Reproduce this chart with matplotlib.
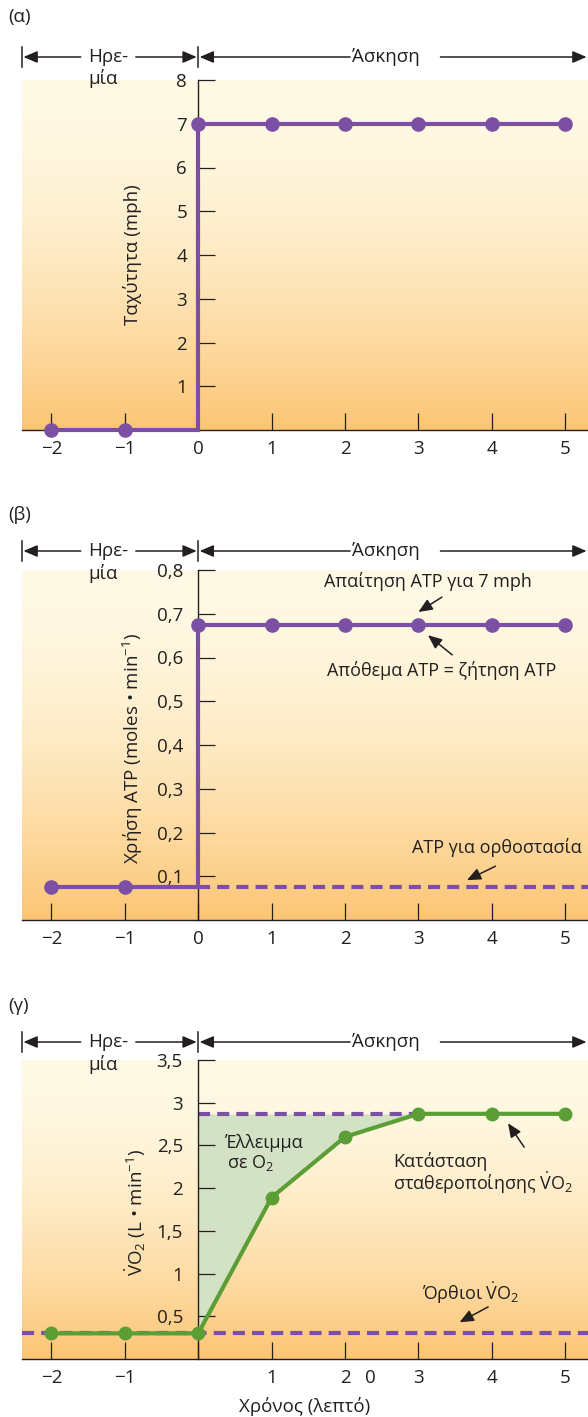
import numpy as np
import matplotlib.pyplot as plt
from matplotlib import transforms
from matplotlib.colors import to_rgb

plt.rcParams['font.family'] = ['Open Sans', 'DejaVu Sans']
plt.rcParams['mathtext.fontset'] = 'custom'
plt.rcParams['mathtext.rm'] = 'Open Sans'
plt.rcParams['mathtext.it'] = 'Open Sans:italic'
plt.rcParams['axes.unicode_minus'] = True

# ---- data ----
t_rest = [-2, -1]
t_ex = [0, 1, 2, 3, 4, 5]
speed_rest = [0, 0]
speed_ex = [7, 7, 7, 7, 7, 7]

atp_rest = [0.075, 0.075]
atp_ex = [0.675, 0.675, 0.675, 0.675, 0.675, 0.675]
atp_stand = 0.075

t_vo2 = [-2, -1, 0, 1, 2, 3, 4, 5]
vo2 = [0.3, 0.3, 0.3, 1.89, 2.6, 2.87, 2.87, 2.87]
vo2_steady = 2.87
vo2_stand = 0.3

x_ticks = [-2, -1, 0, 1, 2, 3, 4, 5]
x_labels = ['\u22122', '\u22121', '0', '1', '2', '3', '4', '5']
x_labels_g = ['\u22122', '\u22121', '', '1', '2', '3', '4', '5']

y_ticks_a = [1, 2, 3, 4, 5, 6, 7, 8]
y_labels_a = ['1', '2', '3', '4', '5', '6', '7', '8']
y_ticks_b = [0.1, 0.2, 0.3, 0.4, 0.5, 0.6, 0.7, 0.8]
y_labels_b = ['0,1', '0,2', '0,3', '0,4', '0,5', '0,6', '0,7', '0,8']
y_ticks_g = [0.5, 1, 1.5, 2, 2.5, 3, 3.5]
y_labels_g = ['0,5', '1', '1,5', '2', '2,5', '3', '3,5']

PURPLE = '#7b4fa3'
GREEN = '#5b9e35'
FILL = '#d3e2c5'
INK = '#231f20'
XLIM = (-2.40, 5.31)

W, H = 588, 1417
fig = plt.figure(figsize=(W / 100, H / 100), dpi=100)


def px_axes(top, bottom):
    return fig.add_axes([22 / W, 1 - bottom / H, 566 / W, (bottom - top) / H])


def setup(ax, ylim, yt, yl, xl, ypad):
    top = np.array(to_rgb('#fffae6'))
    bot = np.array(to_rgb('#fcc574'))
    t = np.linspace(0, 1, 256) ** 1.7
    grad = top[None, :] * (1 - t[:, None]) + bot[None, :] * t[:, None]
    ax.imshow(grad[:, None, :], extent=[0, 1, 0, 1], transform=ax.transAxes,
              aspect='auto', zorder=0, interpolation='bilinear')
    ax.patch.set_visible(False)
    ax.set_xlim(*XLIM)
    ax.set_ylim(*ylim)
    for s in ['top', 'right']:
        ax.spines[s].set_visible(False)
    ax.spines['left'].set_position(('data', 0))
    ax.spines['left'].set_color(INK)
    ax.spines['bottom'].set_color(INK)
    ax.spines['left'].set_linewidth(1.0)
    ax.spines['bottom'].set_linewidth(1.0)
    ax.set_xticks(x_ticks)
    ax.set_xticklabels(xl)
    ax.set_yticks(yt)
    ax.set_yticklabels(yl)
    ax.tick_params(axis='x', direction='in', length=12, width=0.9, pad=7,
                   labelsize=13.5, colors=INK)
    ax.tick_params(axis='y', direction='in', length=12, width=0.9, pad=ypad,
                   labelsize=13.5, colors=INK)


def header(ax, y_px, label_y_px, tag):
    tr = transforms.blended_transform_factory(ax.transData, fig.transFigure)
    fy = 1 - y_px / H
    dy = 10 / H
    kw = dict(xycoords=tr, textcoords=tr, annotation_clip=False,
              arrowprops=dict(arrowstyle='-|>,head_length=0.7,head_width=0.3',
                              mutation_scale=12, lw=1.1, color=INK,
                              shrinkA=0, shrinkB=0))
    for xb in [XLIM[0], 0]:
        ax.plot([xb, xb], [fy - dy, fy + dy], color=INK, lw=1.1,
                transform=tr, clip_on=False)
    ax.annotate('', xy=(XLIM[0] + 0.02, fy), xytext=(-1.60, fy), **kw)
    ax.annotate('', xy=(-0.02, fy), xytext=(-0.85, fy), **kw)
    ax.annotate('', xy=(0.02, fy), xytext=(2.07, fy), **kw)
    ax.annotate('', xy=(5.29, fy), xytext=(3.30, fy), **kw)
    ax.text(-1.50, fy, 'Ηρε-', transform=tr, ha='left', va='center',
            fontsize=13.5, color=INK)
    ax.text(-1.50, fy - 22 / H, 'μία', transform=tr, ha='left', va='center',
            fontsize=13.5, color=INK)
    ax.text(2.56, fy, 'Άσκηση', transform=tr, ha='center', va='center',
            fontsize=13.5, color=INK)
    fig.text(8 / W, 1 - label_y_px / H, tag, ha='left', va='center',
             fontsize=13.5, color=INK)


def arrow(ax, head, tail):
    ax.annotate('', xy=head, xytext=tail,
                arrowprops=dict(arrowstyle='-|>,head_length=0.7,head_width=0.3',
                                mutation_scale=12, lw=1.1, color=INK,
                                shrinkA=0, shrinkB=0))


# ---- (α) speed ----
ax1 = px_axes(80, 430)
setup(ax1, (0, 8), y_ticks_a, y_labels_a, x_labels, 8)
header(ax1, 57, 17, '(α)')
ax1.plot(t_rest + [t_ex[0]] + t_ex, speed_rest + [speed_rest[-1]] + speed_ex,
         color=PURPLE, lw=3, zorder=4, clip_on=False, solid_joinstyle='miter')
ax1.plot(t_rest + t_ex, speed_rest + speed_ex, 'o', color=PURPLE, ms=9.5,
         zorder=5, clip_on=False)
ax1.text(-0.89, 4.0, 'Ταχύτητα (mph)', rotation=90, ha='center', va='center',
         fontsize=13.5, color=INK)

# ---- (β) ATP ----
ax2 = px_axes(570, 920)
setup(ax2, (0, 0.8), y_ticks_b, y_labels_b, x_labels, 11)
header(ax2, 551, 515, '(β)')
ax2.hlines(atp_stand, 0, XLIM[1], colors=PURPLE, lw=3, linestyles=(0, (2.9, 1.7)),
           zorder=3)
ax2.plot(t_rest + [t_ex[0]] + t_ex, atp_rest + [atp_rest[-1]] + atp_ex,
         color=PURPLE, lw=3, zorder=4, clip_on=False, solid_joinstyle='miter')
ax2.plot(t_rest + t_ex, atp_rest + atp_ex, 'o', color=PURPLE, ms=9.5,
         zorder=5, clip_on=False)
ax2.text(-0.89, 0.393, 'Χρήση ATP (moles • min$^{-1}$)', rotation=90,
         ha='center', va='center', fontsize=13.5, color=INK)
ax2.text(3.13, 0.773, 'Απαίτηση ATP για 7 mph', ha='center', va='center',
         fontsize=13, color=INK)
arrow(ax2, (3.0, 0.704), (3.32, 0.738))
ax2.text(3.31, 0.571, 'Απόθεμα ATP = ζήτηση ATP', ha='center', va='center',
         fontsize=13, color=INK)
arrow(ax2, (3.13, 0.651), (3.46, 0.606))
ax2.text(4.07, 0.165, 'ATP για ορθοστασία', ha='center', va='center',
         fontsize=13, color=INK)
arrow(ax2, (3.66, 0.091), (4.05, 0.123))

# ---- (γ) VO2 ----
ax3 = px_axes(1060, 1359)
setup(ax3, (0, 3.5), y_ticks_g, y_labels_g, x_labels_g, 11)
header(ax3, 1042, 1006, '(γ)')
ax3.fill_between(t_vo2[2:6], vo2[2:6], vo2_steady, color=FILL, lw=0, zorder=1)
ax3.axhline(vo2_stand, color=PURPLE, lw=3, ls=(0, (2.9, 1.7)), zorder=2)
ax3.plot([t_vo2[2], t_vo2[5]], [vo2_steady, vo2_steady], color=PURPLE, lw=3,
         ls=(0, (2.9, 1.7)), zorder=2)
ax3.plot(t_vo2, vo2, '-o', color=GREEN, lw=3, ms=9, zorder=4)
ax3.text(-0.85, 1.71, r'$\dot{\mathrm{V}}\mathrm{O}_2$ (L • min$^{-1}$)',
         rotation=90, ha='center', va='center', fontsize=13.5, color=INK)
ax3.text(0.37, 2.53, 'Έλλειμμα', ha='left', va='center', fontsize=13, color=INK)
ax3.text(0.39, 2.30, r'σε $\mathrm{O}_2$', ha='left', va='center',
         fontsize=13, color=INK)
ax3.text(2.66, 2.31, 'Κατάσταση', ha='left', va='center', fontsize=13, color=INK)
ax3.text(2.66, 2.06, r'σταθεροποίησης $\dot{\mathrm{V}}\mathrm{O}_2$', ha='left',
         va='center', fontsize=13, color=INK)
arrow(ax3, (4.22, 2.76), (4.44, 2.48))
ax3.text(3.71, 0.77, r'Όρθιοι $\dot{\mathrm{V}}\mathrm{O}_2$', ha='center',
         va='center', fontsize=13, color=INK)
arrow(ax3, (3.56, 0.43), (3.95, 0.61))
ax3.text(2.34, -19 / 299, '0', transform=ax3.get_xaxis_transform(),
         ha='center', va='center', fontsize=13.5, color=INK)
ax3.text(0.5, -48 / 299, 'Χρόνος (λεπτό)', transform=ax3.transAxes,
         ha='center', va='center', fontsize=13.5, color=INK)

fig.savefig('out.png', dpi=100)
